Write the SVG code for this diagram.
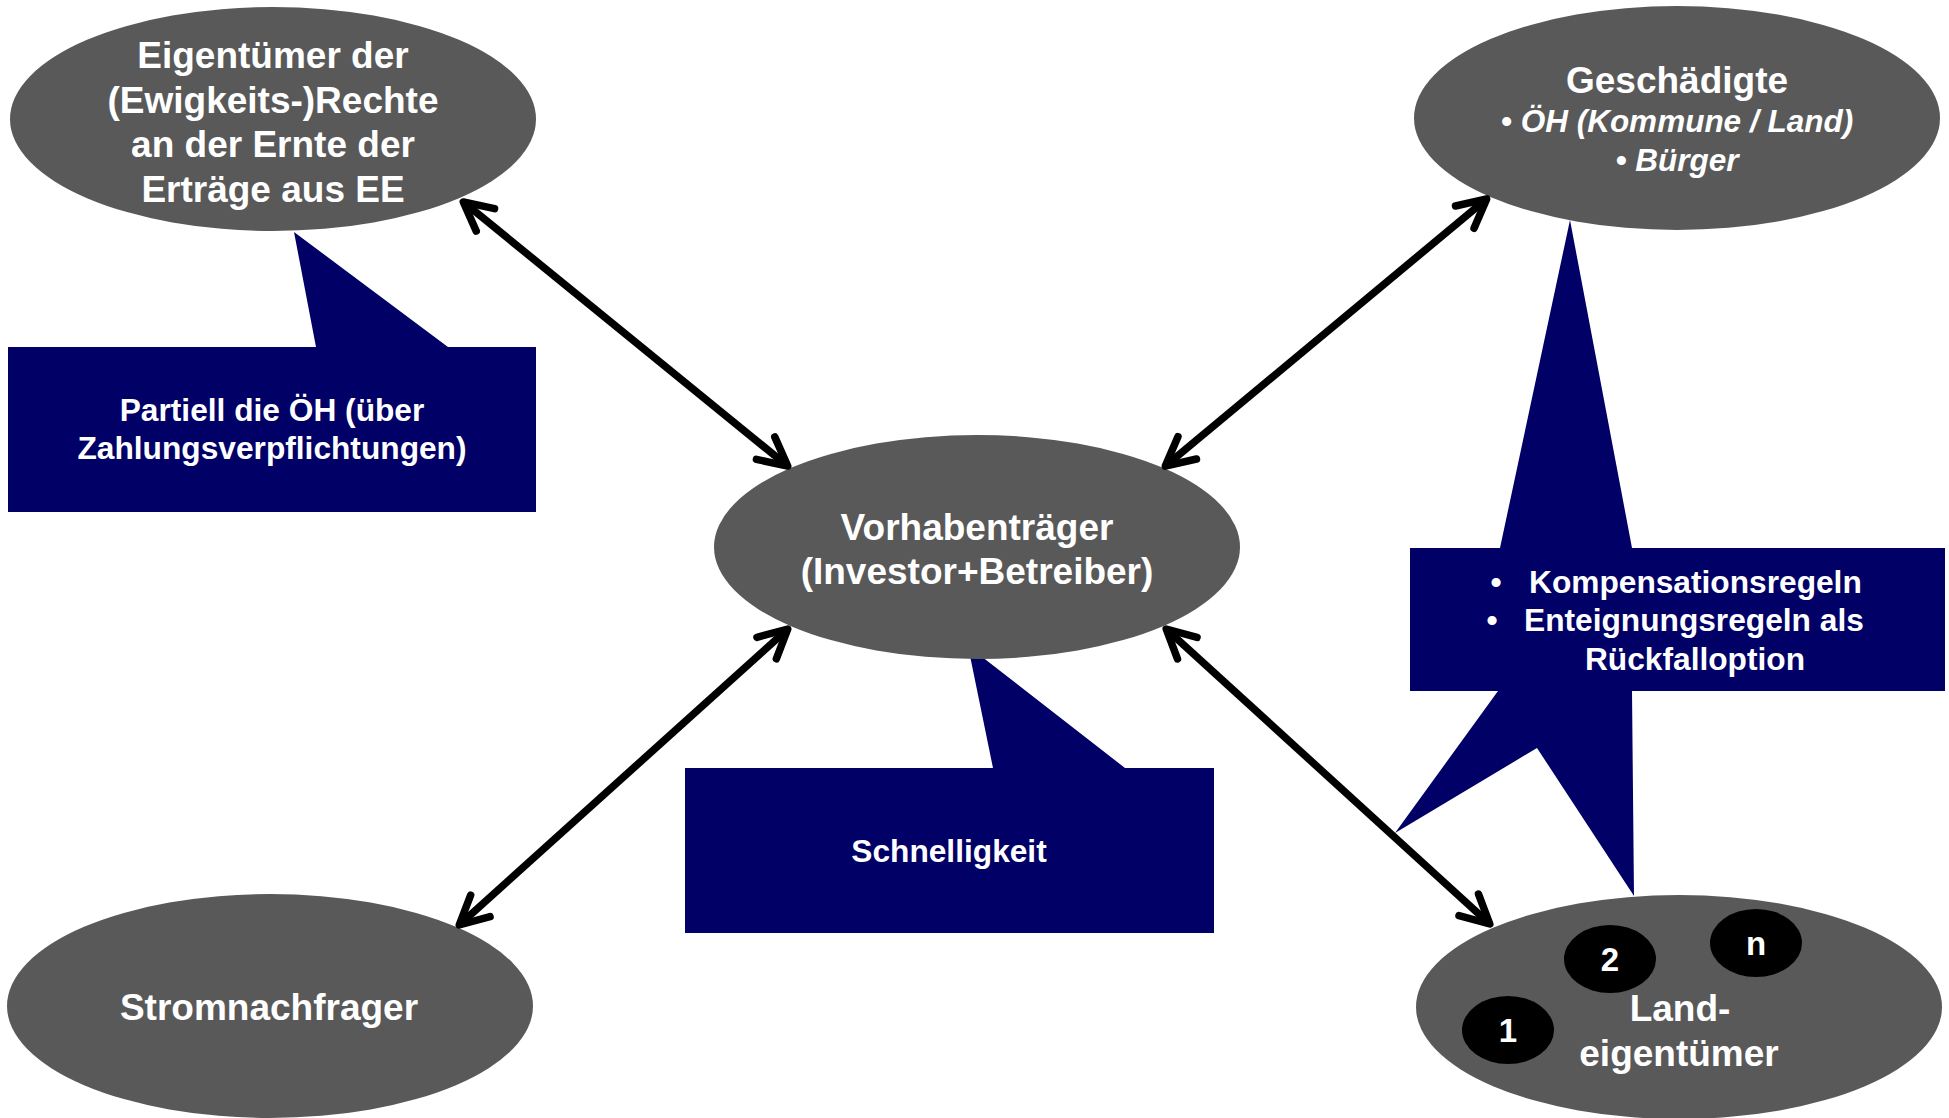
<svg xmlns="http://www.w3.org/2000/svg" width="1949" height="1118" viewBox="0 0 1949 1118">
<defs>
<style>
.node{fill:#595959}
.callout{fill:#000066}
.t{font-family:"Liberation Sans",Arial,sans-serif;font-weight:bold;fill:#ffffff;text-anchor:middle}
.big{font-size:37px}
.mid{font-size:31.7px}
.it{font-style:italic;font-size:31.5px}
.dot{fill:#000000}
.num{font-size:33px}
.con{stroke:#000000;stroke-width:7.5;fill:none;marker-start:url(#ah);marker-end:url(#ah)}
</style>
<marker id="ah" markerUnits="userSpaceOnUse" markerWidth="50" markerHeight="50" viewBox="0 0 50 50" refX="40" refY="25" orient="auto-start-reverse" overflow="visible">
<path d="M11.5 10.5 L40 25 L11.5 39.5" fill="none" stroke="#000000" stroke-width="7.5" stroke-linecap="round" stroke-linejoin="round"/>
</marker>
</defs>
<rect width="1949" height="1118" fill="#ffffff"/>

<g id="callout-partiell">
<path class="callout" d="M8 347 L316 347 L294 232 L448 347 L536 347 L536 512 L8 512 Z"/>
<text class="t mid" x="272" y="421">Partiell die ÖH (über</text>
<text class="t mid" x="272" y="459">Zahlungsverpflichtungen)</text>
</g>

<g id="callout-schnelligkeit">
<path class="callout" d="M685 768 L993 768 L968 646 L1125 768 L1214 768 L1214 933 L685 933 Z"/>
<text class="t mid" x="949" y="862">Schnelligkeit</text>
</g>

<g id="callout-regeln">
<path class="callout" d="M1410 548 L1500 548 L1570 220 L1632 548 L1945 548 L1945 691 L1632 691 L1634 896 L1537 748 L1395 833 L1498 691 L1410 691 Z"/>
<text class="t mid" x="1496" y="593">•</text>
<text class="t mid" x="1529" y="593" style="text-anchor:start">Kompensationsregeln</text>
<text class="t mid" x="1492" y="631">•</text>
<text class="t mid" x="1524" y="631" style="text-anchor:start">Enteignungsregeln als</text>
<text class="t mid" x="1695" y="670">Rückfalloption</text>
</g>

<g id="node-eigentuemer">
<ellipse class="node" cx="273" cy="119" rx="263" ry="112"/>
<text class="t big" x="273" y="68">Eigentümer der</text>
<text class="t big" x="273" y="112.5">(Ewigkeits-)Rechte</text>
<text class="t big" x="273" y="157">an der Ernte der</text>
<text class="t big" x="273" y="201.5">Erträge aus EE</text>
</g>

<g id="node-geschaedigte">
<ellipse class="node" cx="1677" cy="118" rx="263" ry="112"/>
<text class="t big" x="1677" y="93">Geschädigte</text>
<text class="t it" x="1677" y="132">• ÖH (Kommune / Land)</text>
<text class="t it" x="1677" y="171">• Bürger</text>
</g>

<g id="node-vorhabentraeger">
<ellipse class="node" cx="977" cy="547" rx="263" ry="112"/>
<text class="t big" x="977" y="540">Vorhabenträger</text>
<text class="t big" x="977" y="584">(Investor+Betreiber)</text>
</g>

<g id="node-stromnachfrager">
<ellipse class="node" cx="270" cy="1006" rx="263" ry="112"/>
<text class="t big" x="269" y="1020">Stromnachfrager</text>
</g>

<g id="node-landeigentuemer">
<ellipse class="node" cx="1679" cy="1007" rx="263" ry="112"/>
<ellipse class="dot" cx="1508" cy="1030" rx="46" ry="34"/>
<text class="t num" x="1508" y="1042">1</text>
<ellipse class="dot" cx="1610" cy="959" rx="46" ry="34"/>
<text class="t num" x="1610" y="971">2</text>
<ellipse class="dot" cx="1756" cy="943" rx="46" ry="34"/>
<text class="t num" x="1756" y="955">n</text>
<text class="t big" x="1680" y="1021">Land-</text>
<text class="t big" x="1679" y="1066">eigentümer</text>
</g>

<g id="connectors">
<line class="con" x1="463.3" y1="201.9" x2="787.7" y2="466.1"/>
<line class="con" x1="1486.7" y1="198.9" x2="1165.3" y2="466.1"/>
<line class="con" x1="787.8" y1="629" x2="459.2" y2="925"/>
<line class="con" x1="1166.2" y1="629" x2="1489.8" y2="924"/>
</g>
</svg>
